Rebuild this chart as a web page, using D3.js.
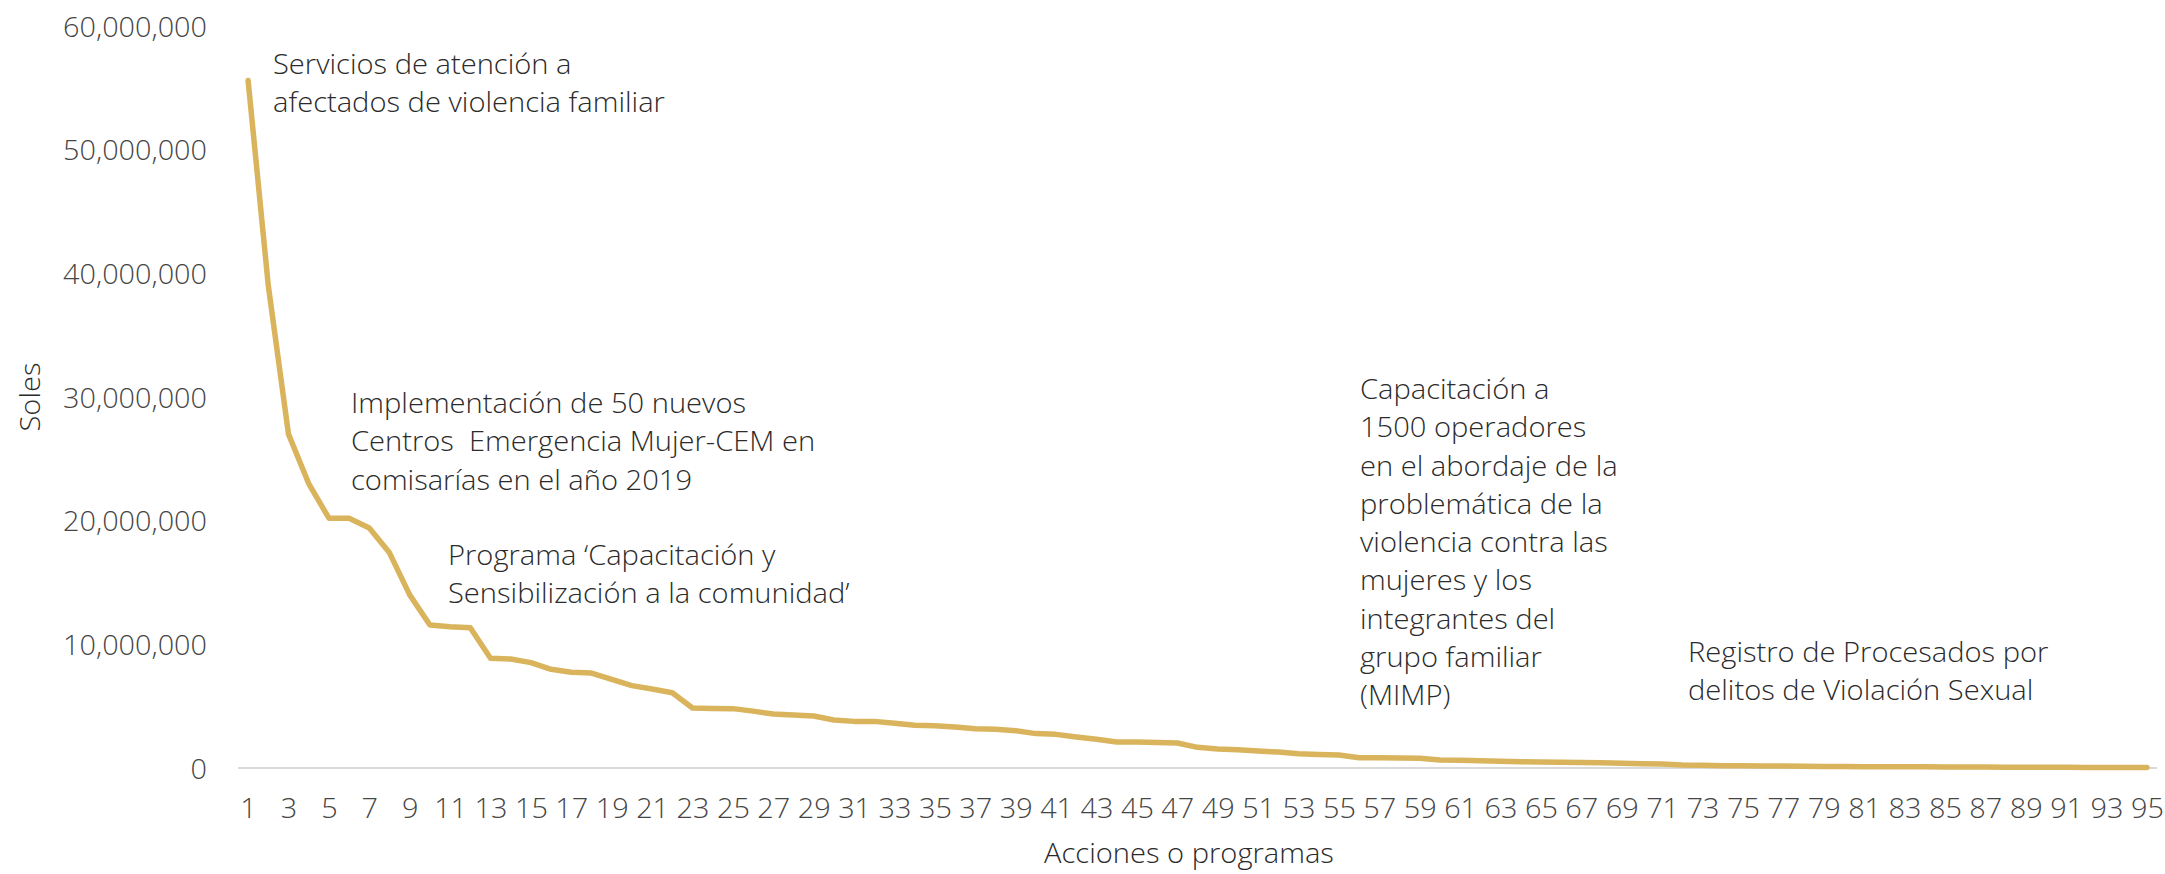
<!DOCTYPE html>
<html>
<head>
<meta charset="utf-8">
<script src="https://cdn.jsdelivr.net/npm/d3@7"></script>
<style>
  html, body { margin: 0; padding: 0; background: #ffffff; }
  svg { display: block; }
  text { font-family: "Open Sans", "Noto Sans", sans-serif; font-weight: 300; }
</style>
</head>
<body>
<svg id="chart" width="2165" height="874"></svg>
<script>
// ---------------- DATA ----------------
const categories = d3.range(1, 96); // acciones o programas 1..95

const soles = [
  55600000, 39000000, 27000000, 23000000, 20200000, 20200000, 19400000, 17400000, 14000000, 11560000,
  11430000, 11350000, 8870000, 8810000, 8520000, 7980000, 7740000, 7680000, 7170000, 6660000,
  6390000, 6090000, 4850000, 4820000, 4800000, 4600000, 4360000, 4290000, 4200000, 3880000,
  3770000, 3770000, 3610000, 3450000, 3420000, 3320000, 3180000, 3130000, 3020000, 2780000,
  2720000, 2510000, 2320000, 2100000, 2100000, 2070000, 2020000, 1670000, 1540000, 1480000,
  1370000, 1290000, 1160000, 1100000, 1050000, 830000, 830000, 810000, 780000, 650000,
  620000, 590000, 540000, 510000, 490000, 460000, 440000, 430000, 380000, 350000,
  320000, 240000, 220000, 190000, 190000, 170000, 160000, 140000, 120000, 120000,
  110000, 110000, 100000, 100000, 90000, 80000, 80000, 70000, 70000, 60000,
  60000, 50000, 50000, 40000, 40000
];

const yTicks = [0, 10000000, 20000000, 30000000, 40000000, 50000000, 60000000];
const xTickLabels = categories.filter(d => d % 2 === 1);

const yTitle = "Soles";
const xTitle = "Acciones o programas";

const annotationTexts = [
  ["Servicios de atención a", "afectados de violencia familiar"],
  ["Implementación de 50 nuevos", "Centros\u00A0 Emergencia Mujer-CEM en", "comisarías en el año 2019"],
  ["Programa \u2018Capacitación y", "Sensibilización a la comunidad\u2019"],
  ["Capacitación a", "1500 operadores", "en el abordaje de la", "problemática de la", "violencia contra las", "mujeres y los", "integrantes del", "grupo familiar", "(MIMP)"],
  ["Registro de Procesados por", "delitos de Violación Sexual"]
];

// ---------------- LAYOUT ----------------
const W = 2165, H = 874;
const plot = { left: 238, right: 2157, top: 26, bottom: 768 };
const annotationPos = [
  { x: 273, y: 74 },
  { x: 351, y: 413 },
  { x: 448, y: 565 },
  { x: 1360, y: 399 },
  { x: 1688, y: 662 }
];
const lineGap = 38.3;
const fontSize = 28;
const textColor = "#2b2b2b";
const tickColor = "#454545";
const lineColor = "#D9B45C";

const svg = d3.select("#chart");

// measure for horizontal condensing (to mimic a narrow font)
function measure(str) {
  const t = svg.append("text").attr("font-size", fontSize).text(str);
  const w = t.node().getComputedTextLength();
  t.remove();
  return w;
}
const sxText = 392 / measure("afectados de violencia familiar");
const sxNum = 144 / measure("60,000,000");

// ---------------- SCALES ----------------
const step = (plot.right - plot.left) / categories.length;
const x = d3.scalePoint()
  .domain(categories)
  .range([plot.left + step / 2, plot.right - step / 2]);

const y = d3.scaleLinear()
  .domain([0, 60000000])
  .range([plot.bottom, plot.top]);

// ---------------- ZERO LINE ----------------
svg.append("line")
  .attr("x1", plot.left).attr("x2", plot.right)
  .attr("y1", y(0)).attr("y2", y(0))
  .attr("stroke", "#d9d9d9")
  .attr("stroke-width", 2);

// ---------------- Y AXIS ----------------
const yAxisG = svg.append("g")
  .attr("transform", `translate(${plot.left},0)`)
  .call(d3.axisLeft(y).tickValues(yTicks).tickFormat(d3.format(",")).tickSize(0).tickPadding(31));
yAxisG.select(".domain").remove();
yAxisG.selectAll("text")
  .attr("font-size", fontSize)
  .attr("font-family", "\"Open Sans\", sans-serif")
  .attr("fill", tickColor)
  .attr("x", -31 / sxNum)
  .attr("dy", "0.36em")
  .attr("transform", `scale(${sxNum},1)`);

// ---------------- X AXIS ----------------
const xAxisG = svg.append("g")
  .attr("transform", `translate(0,${plot.bottom})`)
  .call(d3.axisBottom(x).tickValues(xTickLabels).tickSize(0).tickPadding(30));
xAxisG.select(".domain").remove();
xAxisG.selectAll("text")
  .attr("font-size", fontSize)
  .attr("font-family", "\"Open Sans\", sans-serif")
  .attr("fill", tickColor)
  .attr("transform", `scale(${sxNum},1)`);

// ---------------- LINE ----------------
const lineGen = d3.line()
  .x((d, i) => x(categories[i]))
  .y(d => y(d));

svg.append("path")
  .datum(soles)
  .attr("d", lineGen)
  .attr("fill", "none")
  .attr("stroke", lineColor)
  .attr("stroke-width", 5.5)
  .attr("stroke-linejoin", "round")
  .attr("stroke-linecap", "round");

// ---------------- ANNOTATIONS ----------------
annotationTexts.forEach((lines, k) => {
  const p = annotationPos[k];
  const g = svg.append("g").attr("transform", `translate(${p.x},${p.y}) scale(${sxText},1)`);
  lines.forEach((ln, j) => {
    g.append("text")
      .attr("x", 0)
      .attr("y", j * lineGap)
      .attr("font-size", fontSize)
      .attr("fill", textColor)
      .text(ln);
  });
});

// ---------------- AXIS TITLES ----------------
svg.append("g")
  .attr("transform", `translate(40,397) rotate(-90) scale(${sxText},1)`)
  .append("text")
  .attr("text-anchor", "middle")
  .attr("font-size", fontSize)
  .attr("fill", textColor)
  .text(yTitle);

svg.append("g")
  .attr("transform", `translate(1189,863) scale(${sxText},1)`)
  .append("text")
  .attr("text-anchor", "middle")
  .attr("font-size", fontSize)
  .attr("fill", textColor)
  .text(xTitle);
</script>
</body>
</html>
